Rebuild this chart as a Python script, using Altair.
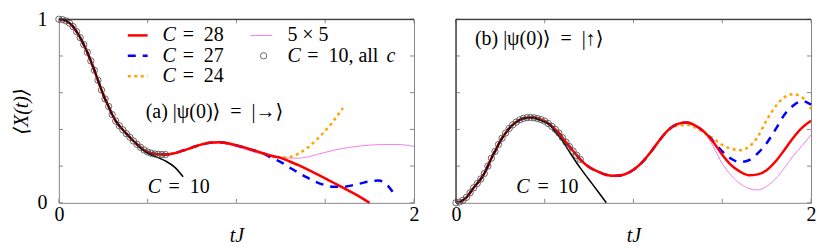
import altair as alt
import pandas as pd

# ---------------- data: panel (a) ----------------
LA_CIRC_T = [0.00, 0.02, 0.04, 0.06, 0.08, 0.10, 0.12, 0.14, 0.16, 0.18, 0.20,
             0.22, 0.24, 0.26, 0.28, 0.30, 0.32, 0.34, 0.36, 0.38, 0.40,
             0.42, 0.44, 0.46, 0.48, 0.50, 0.52, 0.54, 0.56, 0.58, 0.60]
LA_CIRC_V = [1.000, 0.998, 0.991, 0.979, 0.960, 0.932, 0.900, 0.862, 0.820, 0.773, 0.722,
             0.668, 0.615, 0.566, 0.525, 0.481, 0.446, 0.420, 0.398, 0.377, 0.357,
             0.337, 0.319, 0.302, 0.288, 0.277, 0.270, 0.266, 0.264, 0.263, 0.263]
LA_MID_T = [0.65, 0.70, 0.75, 0.80, 0.85, 0.90, 0.95, 1.00, 1.05, 1.10, 1.15, 1.20]
LA_MID_V = [0.270, 0.285, 0.301, 0.317, 0.327, 0.330, 0.325, 0.313, 0.300, 0.285, 0.270, 0.255]
LA_RED_T = [1.25, 1.30, 1.35, 1.40, 1.45, 1.50, 1.55, 1.60, 1.65, 1.70, 1.75]
LA_RED_V = [0.245, 0.225, 0.205, 0.182, 0.158, 0.133, 0.108, 0.083, 0.057, 0.030, 0.000]
LA_BLUE_T = [1.20, 1.25, 1.30, 1.35, 1.40, 1.45, 1.50, 1.55, 1.60, 1.65, 1.70, 1.75,
             1.80, 1.83, 1.86, 1.89]
LA_BLUE_V = [0.243, 0.222, 0.192, 0.163, 0.137, 0.113, 0.096, 0.087, 0.087, 0.095, 0.106, 0.117,
             0.121, 0.113, 0.085, 0.045]
LA_ORANGE_T = [1.25, 1.30, 1.35, 1.40, 1.45, 1.50, 1.55, 1.60]
LA_ORANGE_V = [0.246, 0.250, 0.268, 0.300, 0.342, 0.392, 0.450, 0.517]
LA_PINK_T = [0.90, 0.95, 1.00, 1.05, 1.10, 1.15, 1.20, 1.25, 1.30, 1.35, 1.40, 1.45,
             1.50, 1.55, 1.60, 1.70, 1.80, 1.90, 2.00]
LA_PINK_V = [0.326, 0.319, 0.306, 0.291, 0.276, 0.263, 0.254, 0.248, 0.244, 0.243, 0.250, 0.262,
             0.275, 0.287, 0.296, 0.310, 0.317, 0.318, 0.308]
LA_BLACK_T = [0.46, 0.50, 0.55, 0.60, 0.65, 0.70]
LA_BLACK_V = [0.298, 0.270, 0.250, 0.228, 0.196, 0.142]

# ---------------- data: panel (b) ----------------
RB_CIRC_T = [0.00, 0.02, 0.04, 0.06, 0.08, 0.10, 0.12, 0.14, 0.16, 0.18, 0.20, 0.22,
             0.24, 0.26, 0.28, 0.30, 0.32, 0.34, 0.36, 0.38, 0.40, 0.42, 0.44, 0.46,
             0.48, 0.50, 0.52, 0.54, 0.56, 0.58, 0.60, 0.62, 0.64, 0.66, 0.68, 0.70]
RB_CIRC_V = [0.000, 0.004, 0.014, 0.030, 0.055, 0.082, 0.105, 0.130, 0.160, 0.200, 0.243, 0.280,
             0.318, 0.352, 0.380, 0.405, 0.425, 0.440, 0.452, 0.460, 0.464, 0.465, 0.463, 0.459,
             0.453, 0.445, 0.432, 0.417, 0.400, 0.380, 0.355, 0.330, 0.306, 0.282, 0.259, 0.237]
RB_MID_T = [0.75, 0.80, 0.85, 0.90, 0.95, 1.00, 1.05, 1.10, 1.15, 1.20]
RB_MID_V = [0.195, 0.170, 0.152, 0.147, 0.155, 0.180, 0.222, 0.280, 0.345, 0.400]
RB_TAIL_T = [1.25, 1.30, 1.35, 1.40, 1.45, 1.50, 1.55, 1.60, 1.65, 1.70, 1.75, 1.80,
             1.85, 1.90, 1.95, 2.00]
RB_RED_V = [0.430, 0.437, 0.420, 0.385, 0.330, 0.262, 0.205, 0.170, 0.150, 0.155, 0.178, 0.225,
            0.288, 0.355, 0.410, 0.447]
RB_BLUE_V = [0.430, 0.437, 0.420, 0.385, 0.335, 0.280, 0.240, 0.222, 0.232, 0.270, 0.325, 0.400,
             0.480, 0.530, 0.555, 0.535]
RB_ORANGE_V = [0.420, 0.425, 0.410, 0.380, 0.350, 0.315, 0.295, 0.287, 0.305, 0.360, 0.450, 0.525,
               0.575, 0.592, 0.575, 0.510]
RB_PINK_V = [0.430, 0.437, 0.420, 0.385, 0.305, 0.215, 0.150, 0.105, 0.078, 0.070, 0.090, 0.130,
             0.190, 0.255, 0.312, 0.370]
RB_BLACK_T = [0.46, 0.50, 0.53, 0.55, 0.60, 0.65, 0.70, 0.75, 0.80, 0.847]
RB_BLACK_V = [0.455, 0.440, 0.425, 0.398, 0.338, 0.262, 0.190, 0.126, 0.062, 0.000]

# ticks / labels
X_TICKS = [0.0, 0.5, 1.0, 1.5, 2.0]
Y_TICKS = [0.0, 0.2, 0.4, 0.6, 0.8, 1.0]
X_LABELS = [0, 1, 2]
Y_LABELS = [0, 1]

# ---------------- styling ----------------
FONT = "Liberation Serif, DejaVu Serif, serif"
FS = 20
W, H = 356, 184
TICK = 4
STYLE = {
    "C = 28": dict(color="#ff0000", strokeWidth=2.5),
    "C = 27": dict(color="#0000ff", strokeWidth=2.5, strokeDash=[8, 7]),
    "C = 24": dict(color="#ffa500", strokeWidth=2.5, strokeDash=[3, 3.5]),
    "5 × 5": dict(color="#ee82ee", strokeWidth=1.0),
    "C = 10": dict(color="#000000", strokeWidth=1.5),
}

xscale = alt.Scale(domain=[0, 2], nice=False, zero=False)
yscale = alt.Scale(domain=[0, 1], nice=False, zero=False)

XAX = alt.Axis(values=X_LABELS, format="d", title="tJ", ticks=False, domain=False,
               grid=False, labelFlush=False, labelPadding=2, titlePadding=1,
               titleFontStyle="italic", labelOverlap=False)
YAX = alt.Axis(values=Y_LABELS, format="d", title="⟨X(t)⟩", ticks=False, domain=False,
               grid=False, labelFlush=False, labelPadding=12, titlePadding=5,
               titleFontStyle="italic", labelOverlap=False)


def df(ts, vs):
    return pd.DataFrame({"t": ts, "v": vs})


def panel(series, circ, texts_it, texts_up, legend, ylab, dark_left):
    X = alt.X("t:Q", scale=xscale, axis=XAX)
    Y = alt.Y("v:Q", scale=yscale, axis=YAX if ylab else None)
    layers = []
    for name in ["5 × 5", "C = 24", "C = 27", "C = 28", "C = 10"]:
        ts, vs = series[name]
        layers.append(alt.Chart(df(ts, vs)).mark_line(interpolate="monotone", **STYLE[name])
                      .encode(x=X, y=Y))
    layers.append(alt.Chart(df(*circ)).mark_point(shape="circle", filled=False, size=40,
                                                 color="#444444", strokeWidth=0.8, opacity=1)
                  .encode(x=X, y=Y))
    # inward ticks
    xt = pd.DataFrame({"t": X_TICKS})
    yt = pd.DataFrame({"v": Y_TICKS})
    tick_style = dict(color="#888888", strokeWidth=1)
    layers.append(alt.Chart(xt).mark_rule(**tick_style).encode(
        x=X, y=alt.value(H), y2=alt.value(H - TICK)))
    layers.append(alt.Chart(xt).mark_rule(**tick_style).encode(
        x=X, y=alt.value(0), y2=alt.value(TICK)))
    layers.append(alt.Chart(yt).mark_rule(**tick_style).encode(
        y=Y, x=alt.value(0), x2=alt.value(TICK)))
    layers.append(alt.Chart(yt).mark_rule(**tick_style).encode(
        y=Y, x=alt.value(W), x2=alt.value(W - TICK)))
    dummy = pd.DataFrame({"a": [0]})
    layers.append(alt.Chart(dummy).mark_rule(color="#222222", strokeWidth=1).encode(
        x=alt.value(0), x2=alt.value(W), y=alt.value(0)))
    if dark_left:
        layers.append(alt.Chart(dummy).mark_rule(color="#222222", strokeWidth=1).encode(
            y=alt.value(0), y2=alt.value(H), x=alt.value(0)))
    # legend
    if legend is not None:
        lines, circ_pos = legend
        for name, t1, t2, v in lines:
            st = dict(STYLE[name])
            layers.append(alt.Chart(pd.DataFrame({"t": [t1], "t2": [t2], "v": [v]}))
                          .mark_rule(**st).encode(x=X, x2="t2:Q", y=Y))
        layers.append(alt.Chart(df([circ_pos[0]], [circ_pos[1]]))
                      .mark_point(shape="circle", filled=False, size=40, color="#444444",
                                  strokeWidth=0.8, opacity=1).encode(x=X, y=Y))
    layers.append(alt.Chart(pd.DataFrame(texts_it, columns=["text", "t", "v"]))
                  .mark_text(align="left", baseline="middle", font=FONT, fontSize=FS,
                             fontStyle="italic", color="black")
                  .encode(x=X, y=Y, text="text:N"))
    layers.append(alt.Chart(pd.DataFrame(texts_up, columns=["text", "t", "v"]))
                  .mark_text(align="left", baseline="middle", font=FONT, fontSize=FS,
                             color="black")
                  .encode(x=X, y=Y, text="text:N"))
    return alt.layer(*layers).properties(width=W, height=H)


left_series = {
    "C = 28": (LA_CIRC_T + LA_MID_T + LA_RED_T, LA_CIRC_V + LA_MID_V + LA_RED_V),
    "C = 27": (LA_CIRC_T + LA_MID_T[:-1] + LA_BLUE_T, LA_CIRC_V + LA_MID_V[:-1] + LA_BLUE_V),
    "C = 24": (LA_CIRC_T + LA_MID_T + LA_ORANGE_T, LA_CIRC_V + LA_MID_V + LA_ORANGE_V),
    "5 × 5": (LA_CIRC_T + LA_MID_T[:5] + LA_PINK_T, LA_CIRC_V + LA_MID_V[:5] + LA_PINK_V),
    "C = 10": (LA_CIRC_T[:23] + LA_BLACK_T, LA_CIRC_V[:23] + LA_BLACK_V),
}
right_series = {
    "C = 28": (RB_CIRC_T + RB_MID_T + RB_TAIL_T, RB_CIRC_V + RB_MID_V + RB_RED_V),
    "C = 27": (RB_CIRC_T + RB_MID_T + RB_TAIL_T, RB_CIRC_V + RB_MID_V + RB_BLUE_V),
    "C = 24": (RB_CIRC_T + RB_MID_T + RB_TAIL_T, RB_CIRC_V + RB_MID_V + RB_ORANGE_V),
    "5 × 5": (RB_CIRC_T + RB_MID_T + RB_TAIL_T, RB_CIRC_V + RB_MID_V + RB_PINK_V),
    "C = 10": (RB_CIRC_T[:23] + RB_BLACK_T, RB_CIRC_V[:23] + RB_BLACK_V),
}

EN = "\u2002"
left_it = [("C", 0.584, 0.912), ("C", 0.584, 0.801), ("C", 0.584, 0.690),
           ("C", 1.287, 0.801), ("c", 1.845, 0.801), ("C", 0.500, 0.086)]
left_up = [("=" + EN + "28", 0.697, 0.912), ("=" + EN + "27", 0.697, 0.801),
           ("=" + EN + "24", 0.697, 0.690),
           ("5 × 5", 1.287, 0.912), ("=" + EN + "10, all", 1.399, 0.801),
           ("=" + EN + "10", 0.618, 0.086),
           ("(a) |ψ(0)⟩" + EN + "=" + EN + "|→⟩", 0.489, 0.495)]
left_legend = ([("C = 28", 0.388, 0.500, 0.912), ("C = 27", 0.388, 0.500, 0.801),
                ("C = 24", 0.388, 0.500, 0.690), ("5 × 5", 1.079, 1.202, 0.912)],
               (1.153, 0.801))
right_it = [("C", 0.340, 0.084)]
right_up = [("=" + EN + "10", 0.459, 0.084),
            ("(b) |ψ(0)⟩" + EN + "=" + EN + "|↑⟩", 0.107, 0.892)]

left = panel(left_series, (LA_CIRC_T, LA_CIRC_V), left_it, left_up, left_legend, True, False)
right = panel(right_series, (RB_CIRC_T, RB_CIRC_V), right_it, right_up, None, False, True)

chart = alt.hconcat(left, right, spacing=42, bounds="flush").properties(
    padding={"left": 3, "top": 0, "right": 5, "bottom": 0},
).configure_view(stroke="#888888", strokeWidth=1).configure_axis(
    labelFont=FONT, titleFont=FONT, labelFontSize=FS, titleFontSize=FS,
    labelColor="black", titleColor="black", titleFontWeight="normal",
)

chart.save("out.html", embed_options={"renderer": "svg", "actions": False})
